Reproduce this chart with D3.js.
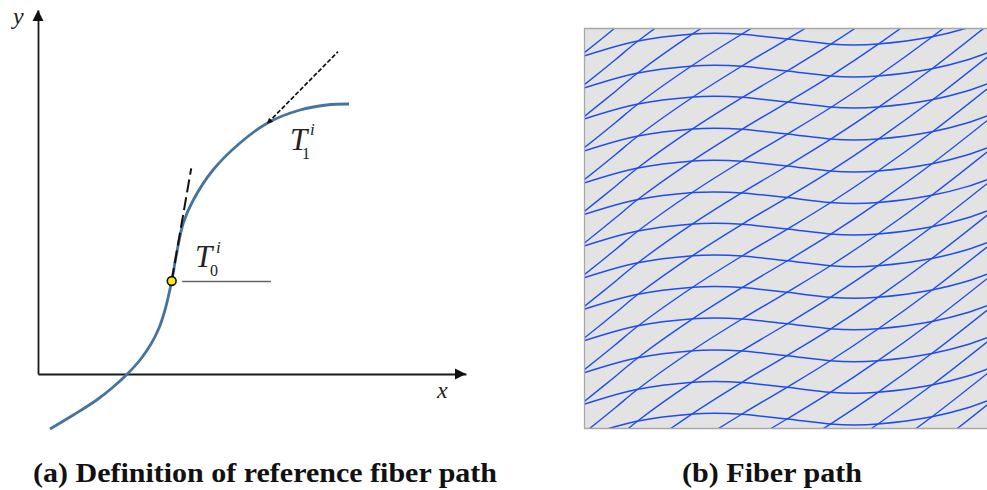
<!DOCTYPE html>
<html><head><meta charset="utf-8">
<script src="https://cdn.jsdelivr.net/npm/d3@7/dist/d3.min.js"></script>
<style>html,body{margin:0;padding:0;background:#fff}svg{display:block}</style>
</head><body><svg id="c" width="987" height="490"></svg>
<script>
// ---- Panel (a) data (units above/right of the axis origin) ----
const pathX = [12,35.3,58.7,73.7,89.3,102,113,121,127,133.7,138.7,145.3,155.3,175,202,230,262,288.7,311];
const pathY = [-55,-41,-26,-14.3,0,14,30,46,64,93,121,151,174,204,231,251.3,264,269,270];
const tangent0X = [133.7,153.2];
const tangent0Y = [93,205.7];
const tangent1X = [230,300];
const tangent1Y = [251.3,322.3];
const baseX = [144,233];
const baseY = [92.5,92.5];
const axisLabels = ["x","y"];
const caption = ["(a) Definition of reference fiber path","(b) Fiber path"];

// ---- Panel (b) data (units inside the 403 x 401 plate) ----
const waveX = [0,54,109,131,158,203,246,270,294,348,383,403];
const waveY = [373,388,395,395.7,394.7,390,385,384,385,392.3,401,408];
const waveDrop = [0,32,63,95,127,158.6,190,221.7,253.3,284.7,316.7,348.3,380];
const lineX = [0,31,54,109,158,203,246,294,348,403];
const lineRise = [0,25,44,83,114,140.7,167,199,238,281];
const lineStart = [376,344,312.3,281,249,217.3,185.7,154,122.3,90.7,59,27.3,-4,-35.7,-67.3,-99,-130.7,-162.3,-194,-225.7,-257];

const svg = d3.select("#c");
const serif = "'Liberation Serif','Times New Roman',serif";

// Panel (a)
const xa = d3.scaleLinear().domain([0,428]).range([38,466]);
const ya = d3.scaleLinear().domain([0,364]).range([374,10]);
const a = svg.append("g");
const lineA = d3.line().x(d=>xa(d[0])).y(d=>ya(d[1]));
const zip = (p,q)=>p.map((v,i)=>[v,q[i]]);

const axB = a.append("g").attr("transform",`translate(0,${ya(0)})`).call(d3.axisBottom(xa).tickValues([]).tickSizeOuter(0));
const axL = a.append("g").attr("transform",`translate(${xa(0)},0)`).call(d3.axisLeft(ya).tickValues([]).tickSizeOuter(0));
[axB,axL].forEach(g=>g.select(".domain").attr("stroke","#1a1a1a").attr("stroke-width",1.8));
a.append("path").attr("fill","#111").attr("d",`M${xa(428)},${ya(0)}L${xa(428)-11},${ya(0)-5.5}L${xa(428)-11},${ya(0)+5.5}Z`);
a.append("path").attr("fill","#111").attr("d",`M${xa(0)},${ya(364)}L${xa(0)-5.5},${ya(364)+11}L${xa(0)+5.5},${ya(364)+11}Z`);

a.append("path").attr("d",lineA(zip(baseX,baseY))).attr("stroke","#666").attr("stroke-width",1.4).attr("fill","none");
a.append("path").attr("d",lineA.curve(d3.curveCatmullRom)(zip(pathX,pathY)))
 .attr("stroke","#44749f").attr("stroke-width",2.8).attr("fill","none");
lineA.curve(d3.curveLinear);
a.append("path").attr("d",lineA(zip(tangent0X,tangent0Y))).attr("stroke","#111").attr("stroke-width",2).attr("stroke-dasharray","13 5").attr("fill","none");
a.append("path").attr("d",lineA(zip(tangent1X,tangent1Y))).attr("stroke","#111").attr("stroke-width",1.7).attr("stroke-dasharray","4.5 2").attr("fill","none");
a.append("circle").attr("cx",xa(tangent0X[0])).attr("cy",ya(tangent0Y[0])).attr("r",4.4).attr("fill","#ffec00").attr("stroke","#111").attr("stroke-width",1.6);
const ax1 = xa(tangent1X[0]), ay1 = ya(tangent1Y[0]);
a.append("path").attr("fill","#111").attr("d",`M${ax1-1},${ay1+1}L${ax1+5},${ay1-1}L${ax1+1},${ay1-5}Z`);

const lab = (t,x,y,s,it)=>a.append("text").text(t).attr("x",x).attr("y",y).attr("font-family",serif)
  .attr("font-size",s).attr("font-style",it?"italic":"normal").attr("fill","#222");
lab(axisLabels[1],13,24,24,true);
lab(axisLabels[0],437,398,24,true);
lab("T",195,267,31,true); lab("i",216,253,17,true); lab("0",210,276,16,false);
lab("T",290,150,31,true); lab("i",310,135,17,true); lab("1",302,159,16,false);

// Panel (b)
const xb = d3.scaleLinear().domain([0,403]).range([584,987]);
const yb = d3.scaleLinear().domain([0,401]).range([429,28]);
svg.append("clipPath").attr("id","plate").append("rect").attr("x",584).attr("y",28).attr("width",403).attr("height",401);
svg.append("rect").attr("x",584).attr("y",28).attr("width",403).attr("height",401).attr("fill","#e3e3e3");
const b = svg.append("g").attr("clip-path","url(#plate)");
const lineB = d3.line().x(d=>xb(d[0])).y(d=>yb(d[1])).curve(d3.curveCatmullRom);
waveDrop.forEach(dp=>{
  b.append("path").attr("d",lineB(waveX.map((x,i)=>[x,waveY[i]-dp])))
   .attr("fill","none").attr("stroke","#1e4cf2").attr("stroke-width",1.5);
});
lineStart.forEach(s=>{
  b.append("path").attr("d",lineB(lineX.map((x,i)=>[x,s+lineRise[i]])))
   .attr("fill","none").attr("stroke","#1e4cf2").attr("stroke-width",1.4);
});
svg.append("path").attr("d",`M987,28.5H584.5V428.5H987`).attr("fill","none").attr("stroke","#a8a8a8").attr("stroke-width",1.3);

// Captions
const cap = (t,x,len)=>svg.append("text").text(t).attr("x",x).attr("y",482).attr("font-family",serif)
  .attr("font-weight","bold").attr("font-size",27).attr("fill","#111")
  .attr("textLength",len).attr("lengthAdjust","spacingAndGlyphs");
cap(caption[0],33,464);
cap(caption[1],682,180);
</script></body></html>
